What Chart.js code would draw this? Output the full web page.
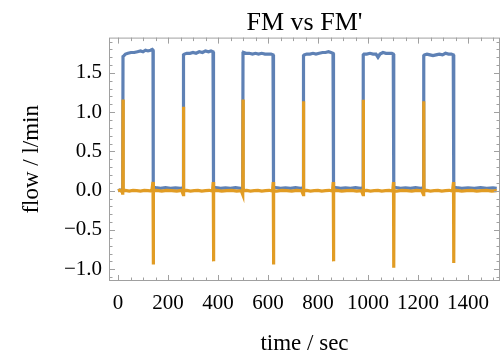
<!DOCTYPE html>
<html>
<head>
<meta charset="utf-8">
<script src="https://cdn.jsdelivr.net/npm/chart.js@4.4.0/dist/chart.umd.min.js"></script>
<style>
html, body { margin: 0; padding: 0; background: #fff; }
</style>
</head>
<body>
<canvas id="fmchart" width="502" height="355"></canvas>
<script>
/* FM (blue) */
var fmTime = [0, 8, 15, 19,
	20, 24, 30, 40, 52, 65, 78, 90, 100, 110, 120, 130, 137, 140,
	141, 150, 170, 190, 210, 230, 250, 261,
	262, 266, 275, 288, 300, 312, 325, 338, 350, 362, 372, 380,
	382, 392, 410, 430, 450, 470, 490, 499,
	500, 503, 512, 525, 538, 550, 562, 575, 588, 600, 612, 620,
	622, 632, 650, 670, 690, 710, 730, 741,
	742, 745, 755, 768, 780, 792, 805, 818, 830, 842, 852, 860,
	862, 872, 890, 910, 930, 950, 970, 980,
	981, 984, 995, 1008, 1020, 1032, 1040, 1048, 1060, 1072, 1085, 1095, 1101,
	1103, 1113, 1130, 1150, 1170, 1190, 1210, 1222,
	1223, 1226, 1236, 1248, 1260, 1272, 1285, 1298, 1310, 1322, 1333, 1341,
	1343, 1353, 1375, 1400, 1425, 1450, 1475, 1500, 1515];
var fmFlow = [0.00, 0.01, 0.00, 0.00,
	1.71, 1.72, 1.74, 1.75, 1.76, 1.76, 1.77, 1.78, 1.77, 1.79, 1.78, 1.79, 1.80, 1.79,
	0.05, 0.04, 0.03, 0.04, 0.03, 0.035, 0.03, 0.035,
	1.73, 1.74, 1.75, 1.75, 1.76, 1.75, 1.77, 1.76, 1.78, 1.77, 1.78, 1.77,
	0.05, 0.04, 0.03, 0.035, 0.03, 0.04, 0.03, 0.035,
	1.75, 1.76, 1.75, 1.75, 1.74, 1.75, 1.74, 1.75, 1.74, 1.74, 1.74, 1.73,
	0.05, 0.04, 0.03, 0.035, 0.03, 0.04, 0.03, 0.035,
	1.72, 1.73, 1.74, 1.74, 1.75, 1.74, 1.75, 1.76, 1.76, 1.77, 1.76, 1.75,
	0.05, 0.04, 0.03, 0.035, 0.03, 0.04, 0.03, 0.035,
	1.73, 1.74, 1.74, 1.75, 1.74, 1.74, 1.70, 1.74, 1.76, 1.75, 1.75, 1.75, 1.74,
	0.05, 0.04, 0.03, 0.035, 0.03, 0.04, 0.03, 0.035,
	1.72, 1.73, 1.74, 1.73, 1.72, 1.73, 1.74, 1.73, 1.75, 1.74, 1.74, 1.73,
	0.05, 0.04, 0.03, 0.035, 0.03, 0.04, 0.03, 0.035, 0.03];

/* FM' (orange) */
var fmpTime = [0, 6, 12, 17,
	19, 20, 21, 30, 45, 60, 75, 90, 105, 120, 135, 140, 141, 142,
	155, 175, 195, 215, 235, 255,
	261, 262, 263, 275, 290, 305, 320, 335, 350, 365, 378, 381, 382, 383,
	395, 415, 435, 455, 475, 493,
	499, 500, 501, 515, 530, 545, 560, 575, 590, 605, 618, 621, 622, 623,
	635, 655, 675, 695, 715, 735,
	741, 742, 743, 755, 770, 785, 800, 815, 830, 845, 858, 861, 862, 863,
	875, 895, 915, 935, 955, 974,
	980, 981, 982, 995, 1010, 1025, 1040, 1055, 1070, 1085, 1099, 1102, 1103, 1104,
	1115, 1135, 1155, 1175, 1195, 1215,
	1222, 1223, 1224, 1235, 1250, 1265, 1280, 1295, 1310, 1325, 1338, 1342, 1343, 1344,
	1355, 1375, 1395, 1415, 1435, 1455, 1475, 1495, 1515];
var fmpFlow = [0.00, 0.005, -0.005, 0.00,
	-0.05, 1.16, 0.00, 0.005, -0.005, 0.005, 0.00, -0.005, 0.005, 0.00, -0.005, 0.11, -0.94, 0.00,
	0.005, -0.005, 0.005, 0.00, -0.005, 0.005,
	-0.05, 1.07, 0.00, 0.005, -0.005, 0.00, 0.005, -0.005, 0.00, 0.005, -0.005, 0.11, -0.90, 0.00,
	0.005, -0.005, 0.00, 0.005, -0.005, 0.00,
	-0.05, 1.16, 0.00, 0.005, -0.005, 0.00, 0.005, -0.005, 0.00, 0.005, -0.005, 0.11, -0.94, 0.00,
	-0.005, 0.005, 0.00, -0.005, 0.005, 0.00,
	-0.05, 1.14, 0.00, 0.005, -0.005, 0.00, 0.005, -0.005, 0.00, 0.005, -0.005, 0.11, -0.90, 0.00,
	0.005, -0.005, 0.00, 0.005, -0.005, 0.00,
	-0.05, 1.16, 0.00, 0.005, -0.005, 0.00, 0.005, -0.005, 0.00, 0.005, -0.005, 0.11, -0.98, 0.00,
	-0.005, 0.005, 0.00, -0.005, 0.005, 0.00,
	-0.05, 1.14, 0.00, 0.005, -0.005, 0.00, 0.005, -0.005, 0.00, 0.005, -0.005, 0.11, -0.92, 0.00,
	0.005, -0.005, 0.00, 0.005, -0.005, 0.00, 0.005, -0.005, 0.00];

var xTicks = [0, 200, 400, 600, 800, 1000, 1200, 1400];
var yTicks = [-1.0, -0.5, 0.0, 0.5, 1.0, 1.5];

function points(xs, ys) {
	return xs.map(function (x, i) { return { x: x, y: ys[i] }; });
}

var serif = 'Liberation Serif';

/* Mathematica style frame with inward ticks on all four sides */
var framePlugin = {
	id: 'frame',
	afterDraw: function (chart) {
		var c = chart.ctx, a = chart.chartArea;
		var xs = chart.scales.x, ys = chart.scales.y;
		c.save();
		c.strokeStyle = '#a0a0a0';
		c.lineWidth = 1;
		c.strokeRect(a.left + 0.5, a.top + 0.5, a.right - a.left - 1, a.bottom - a.top - 1);
		c.beginPath();
		var i, v, p, len;
		for (i = 0; i <= 30; i++) {
			v = i * 50;
			p = Math.round(xs.getPixelForValue(v)) + 0.5;
			len = (v % 200 === 0) ? 6 : 3.5;
			c.moveTo(p, a.bottom); c.lineTo(p, a.bottom - len);
			c.moveTo(p, a.top); c.lineTo(p, a.top + len);
		}
		for (i = -11; i <= 19; i++) {
			v = i / 10;
			p = Math.round(ys.getPixelForValue(v)) + 0.5;
			len = (i % 5 === 0) ? 6 : 3.5;
			c.moveTo(a.left, p); c.lineTo(a.left + len, p);
			c.moveTo(a.right, p); c.lineTo(a.right - len, p);
		}
		c.stroke();
		c.restore();
	}
};

var ctx = document.getElementById('fmchart');
var fmchart = new Chart(ctx, {
	type: 'scatter',
	data: {
		datasets: [{
			label: "FM'",
			data: points(fmpTime, fmpFlow),
			showLine: true,
			borderColor: '#E19C24',
			backgroundColor: '#E19C24',
			borderWidth: 3.2,
			pointRadius: 0,
			order: 1
		}, {
			label: 'FM',
			data: points(fmTime, fmFlow),
			showLine: true,
			borderColor: '#5E81B5',
			backgroundColor: '#5E81B5',
			borderWidth: 3.2,
			pointRadius: 0,
			order: 2
		}]
	},
	options: {
		responsive: false,
		animation: false,
		layout: { padding: { left: 0, right: 2, top: 0, bottom: 0 } },
		plugins: {
			legend: { display: false },
			tooltip: { enabled: false },
			title: {
				display: true,
				text: "FM vs FM'",
				fullSize: false,
				color: '#000',
				font: { family: serif, size: 26, weight: 'normal', lineHeight: 1.1 },
				padding: { top: 9, bottom: 0 }
			}
		},
		scales: {
			x: {
				type: 'linear',
				min: -36,
				max: 1528,
				grid: { display: false, drawTicks: false },
				border: { display: false },
				afterBuildTicks: function (scale) {
					scale.ticks = xTicks.map(function (v) { return { value: v }; });
				},
				afterFit: function (scale) { scale.height = 74; },
				ticks: {
					autoSkip: false,
					maxRotation: 0,
					padding: 10,
					color: '#000',
					font: { family: serif, size: 21 },
					callback: function (v) { return String(v); }
				},
				title: {
					display: true,
					text: 'time / sec',
					color: '#000',
					font: { family: serif, size: 23, lineHeight: 1.0 },
					padding: { top: 0, bottom: 0 }
				}
			},
			y: {
				type: 'linear',
				min: -1.15,
				max: 1.95,
				grid: { display: false, drawTicks: false },
				border: { display: false },
				afterBuildTicks: function (scale) {
					scale.ticks = yTicks.map(function (v) { return { value: v }; });
				},
				afterFit: function (scale) { scale.width = 109; },
				ticks: {
					autoSkip: false,
					padding: 7,
					color: '#000',
					font: { family: serif, size: 21 },
					callback: function (v) { return v.toFixed(1).replace('-', '\u2212'); }
				},
				title: {
					display: true,
					text: 'flow / l/min',
					color: '#000',
					font: { family: serif, size: 23 },
					padding: { top: 18, bottom: 0 }
				}
			}
		}
	},
	plugins: [framePlugin]
});
</script>
</body>
</html>
